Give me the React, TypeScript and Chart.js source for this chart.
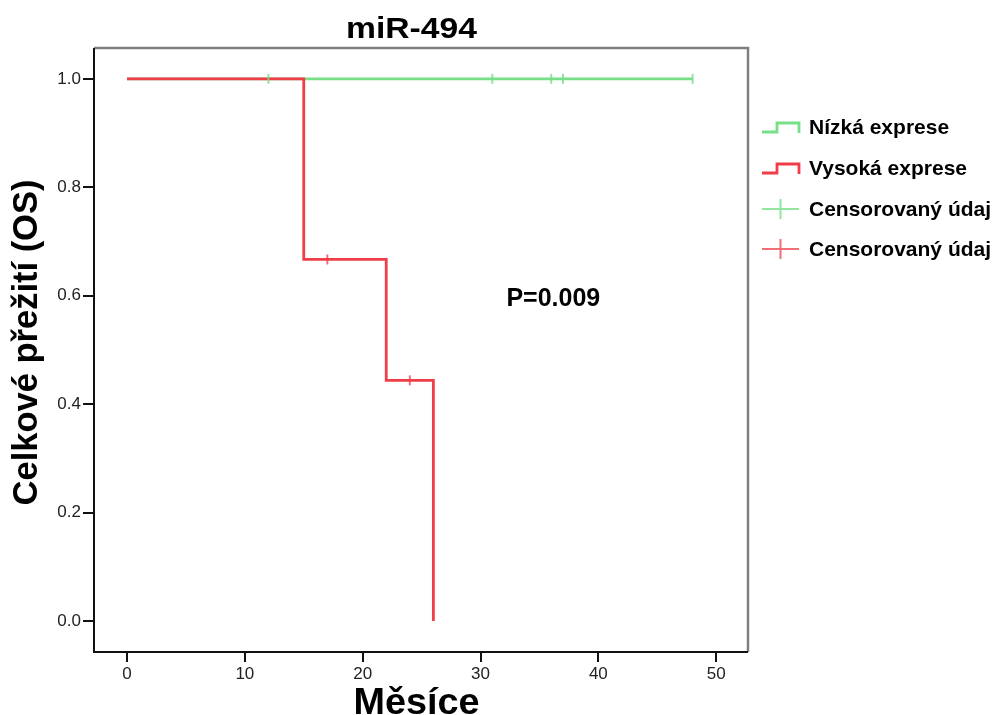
import React, { useEffect, useRef } from "react";
import { Chart, registerables } from "chart.js";

Chart.register(...registerables);

const lowTimes = [0, 48];
const lowSurvival = [1.0, 1.0];
const lowCensorTimes = [12, 31, 36, 37, 48];
const lowCensorSurvival = [1.0, 1.0, 1.0, 1.0, 1.0];

const highTimes = [0, 15, 22, 26];
const highSurvival = [1.0, 0.667, 0.444, 0.0];
const highCensorTimes = [17, 24];
const highCensorSurvival = [0.667, 0.444];

const xTicks = [0, 10, 20, 30, 40, 50];
const yTicks = [0.0, 0.2, 0.4, 0.6, 0.8, 1.0];

const legendLabels = ["Nízká exprese", "Vysoká exprese", "Censorovaný údaj", "Censorovaný údaj"];
const titleText = "miR-494";
const xTitle = "Měsíce";
const yTitle = "Celkové přežití (OS)";
const pText = "P=0.009";
const pAnchor = [32.2, 0.581];

const GREEN = "rgb(120,222,135)";
const RED = "rgb(240,62,72)";
const GREEN_C = "rgba(120,222,135,0.8)";
const RED_C = "rgba(240,62,72,0.75)";

const FONT = "'Liberation Sans', Arial, sans-serif";

function fitText(ctx: any, text: string, x: number, y: number, font: string, width: number) {
  ctx.save();
  ctx.font = font;
  const w = ctx.measureText(text).width;
  ctx.translate(x, y);
  ctx.scale(width / w, 1);
  ctx.textAlign = "center";
  ctx.fillText(text, 0, 0);
  ctx.restore();
}

const decorPlugin = {
  id: "decor",
  beforeDatasetsDraw(chart: any) {
    const { ctx, chartArea } = chart;
    ctx.save();
    ctx.strokeStyle = "#808080";
    ctx.lineWidth = 2.5;
    ctx.beginPath();
    ctx.moveTo(chartArea.left, chartArea.top);
    ctx.lineTo(chartArea.right, chartArea.top);
    ctx.lineTo(chartArea.right, chartArea.bottom);
    ctx.stroke();
    ctx.strokeStyle = "#111";
    ctx.lineWidth = 2;
    ctx.beginPath();
    ctx.moveTo(chartArea.left, chartArea.top);
    ctx.lineTo(chartArea.left, chartArea.bottom);
    ctx.lineTo(chartArea.right, chartArea.bottom);
    ctx.stroke();
    ctx.restore();
  },
  afterDraw(chart: any) {
    const { ctx, scales } = chart;
    ctx.save();
    ctx.fillStyle = "#000";
    ctx.textBaseline = "alphabetic";
    fitText(ctx, titleText, 411.5, 38, `bold 29px ${FONT}`, 131);
    fitText(ctx, xTitle, 416.5, 714, `bold 36px ${FONT}`, 126);
    ctx.save();
    ctx.translate(37, 342.5);
    ctx.rotate(-Math.PI / 2);
    ctx.font = `bold 34.5px ${FONT}`;
    ctx.textAlign = "center";
    ctx.fillText(yTitle, 0, 0);
    ctx.restore();
    // P value
    ctx.textAlign = "left";
    ctx.font = `bold 25px ${FONT}`;
    ctx.fillText(pText, scales.x.getPixelForValue(pAnchor[0]), scales.y.getPixelForValue(pAnchor[1]));

    // legend
    const lx0 = 762, lx1 = 799, tx = 809;
    const rows = [127, 168, 209, 249];
    ctx.font = `bold 21px ${FONT}`;
    ctx.textBaseline = "middle";
    rows.forEach((ry, i) => {
      const col = i === 0 ? GREEN : i === 1 ? RED : i === 2 ? GREEN_C : RED_C;
      ctx.strokeStyle = col;
      ctx.lineWidth = i < 2 ? 2.8 : 2;
      ctx.beginPath();
      if (i < 2) {
        ctx.moveTo(lx0, ry + 5);
        ctx.lineTo(lx0 + 15, ry + 5);
        ctx.lineTo(lx0 + 15, ry - 4);
        ctx.lineTo(lx1, ry - 4);
        ctx.lineTo(lx1, ry + 6);
      } else {
        ctx.moveTo(lx0, ry);
        ctx.lineTo(lx1, ry);
        const cx = (lx0 + lx1) / 2;
        ctx.moveTo(cx, ry - 10);
        ctx.lineTo(cx, ry + 10);
      }
      ctx.stroke();
      ctx.fillStyle = "#000";
      ctx.fillText(legendLabels[i], tx, ry + 1);
    });
    ctx.restore();
  },
};

export default function App() {
  const ref = useRef<HTMLCanvasElement>(null);
  useEffect(() => {
    if (!ref.current) return;
    const toPts = (xs: number[], ys: number[]) => xs.map((x, i) => ({ x, y: ys[i] }));
    const chart = new Chart(ref.current, {
      type: "scatter",
      data: {
        datasets: [
          {
            label: legendLabels[0],
            data: toPts(lowTimes, lowSurvival),
            showLine: true,
            stepped: "before",
            borderColor: GREEN,
            borderWidth: 2.6,
            pointRadius: 0,
            order: 4,
          },
          {
            label: legendLabels[2],
            data: toPts(lowCensorTimes, lowCensorSurvival),
            showLine: false,
            pointStyle: "line",
            rotation: 90,
            radius: 5,
            borderColor: GREEN_C,
            borderWidth: 2,
            order: 0,
          },
          {
            label: legendLabels[1],
            data: toPts(highTimes, highSurvival),
            showLine: true,
            stepped: "before",
            borderColor: RED,
            borderWidth: 2.8,
            pointRadius: 0,
            order: 2,
          },
          {
            label: legendLabels[3],
            data: toPts(highCensorTimes, highCensorSurvival),
            showLine: false,
            pointStyle: "line",
            rotation: 90,
            radius: 5,
            borderColor: RED_C,
            borderWidth: 2,
            order: 1,
          },
        ] as any,
      },
      options: {
        animation: false,
        responsive: false,
        maintainAspectRatio: false,
        layout: { padding: { left: 0, top: 48, right: 247, bottom: 0 } },
        plugins: { legend: { display: false }, tooltip: { enabled: false }, title: { display: false } },
        scales: {
          x: {
            type: "linear",
            min: -2.8,
            max: 52.7,
            afterBuildTicks: (s: any) => { s.ticks = xTicks.map((v) => ({ value: v })); },
            afterFit: (s: any) => { s.height = 63; },
            grid: { drawOnChartArea: false, drawTicks: true, tickLength: 10, color: "#111", lineWidth: 2 },
            border: { display: false },
            ticks: { color: "#222", font: { family: FONT, size: 17 }, padding: 2, maxRotation: 0, callback: (v: any) => String(v) },
          },
          y: {
            type: "linear",
            min: -0.057,
            max: 1.057,
            afterBuildTicks: (s: any) => { s.ticks = yTicks.map((v) => ({ value: v })); },
            afterFit: (s: any) => { s.width = 94; },
            grid: { drawOnChartArea: false, drawTicks: true, tickLength: 11, color: "#111", lineWidth: 2 },
            border: { display: false },
            ticks: { color: "#222", font: { family: FONT, size: 17 }, padding: 2, callback: (v: any) => Number(v).toFixed(1) },
          },
        },
      } as any,
      plugins: [decorPlugin],
    });
    return () => chart.destroy();
  }, []);
  return (
    <div style={{ position: "fixed", left: 0, top: 0, width: 995, height: 715, background: "#fff" }}>
      <canvas ref={ref} width={995} height={715} style={{ width: 995, height: 715 }} />
    </div>
  );
}
